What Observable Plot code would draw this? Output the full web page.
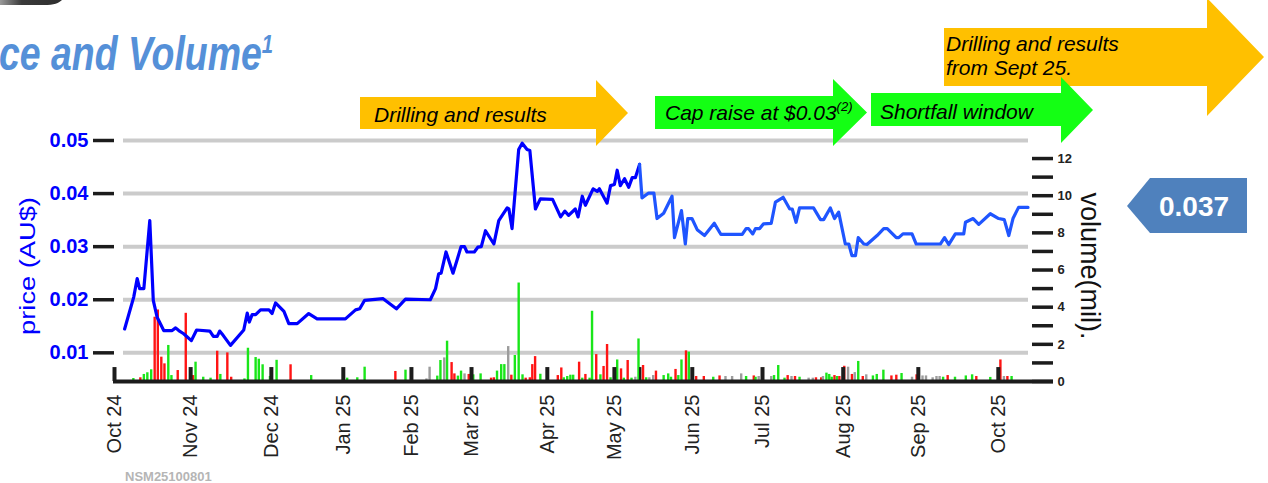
<!DOCTYPE html>
<html>
<head>
<meta charset="utf-8">
<script src="https://cdn.jsdelivr.net/npm/d3@7"></script>
<script src="https://cdn.jsdelivr.net/npm/@observablehq/plot@0.6"></script>
<style>
  html, body { margin: 0; padding: 0; background: #ffffff; }
  #wrap { position: relative; width: 1268px; height: 483px; overflow: hidden; font-family: "Liberation Sans", Arial, sans-serif; }
  #wrap > svg { position: absolute; left: 0; top: 0; }
  #overlay { pointer-events: none; }
</style>
</head>
<body>
<div id="wrap"></div>
<script>
// ---------- DATA ----------
// x = trading-day offset from 1 Oct 2024
const priceIdx = [2.9, 5.5, 6.5, 7.2, 8.4, 10.1, 11.1, 12.2, 14.1, 16.5,
  17.5, 18.4, 19.8, 22.0, 23.5, 27.3, 28.3, 29.4, 30.1, 31.1,
  33.2, 37.0, 38.0, 38.6, 39.4, 40.4, 41.8, 44.2, 45.1, 46.1,
  48.5, 49.9, 52.3, 55.6, 58.0, 66.1, 69.0, 70.2, 71.6, 76.9,
  80.7, 83.3, 90.4, 91.9, 92.8, 93.5, 94.9, 96.9, 98.3, 99.2,
  100.2, 100.9, 103.0, 104.0, 105.0, 106.2, 108.6, 110.0, 112.4, 112.9,
  113.8, 115.7, 116.7, 118.1, 118.9, 120.5, 121.9, 125.4, 127.7, 128.9,
  130.0, 131.9, 132.7, 133.9, 134.8, 137.0, 138.2, 138.8, 141.0, 142.0,
  143.1, 143.9, 144.8, 146.0, 147.2, 148.2, 149.1, 150.3, 151.0, 152.9,
  154.4, 155.3, 157.2, 159.6, 160.3, 162.3, 163.4, 164.1, 165.3, 166.8,
  168.9, 171.7, 173.6, 179.7, 180.8, 181.5, 182.7, 183.5, 184.7, 185.8,
  188.0, 189.2, 191.4, 193.3, 194.0, 195.1, 196.1, 200.1, 202.1, 203.0,
  204.9, 206.1, 207.3, 209.2, 210.2, 211.1, 212.1, 212.9, 214.5, 215.4,
  218.3, 220.2, 221.2, 223.8, 224.5, 225.7, 228.3, 229.5, 236.4, 237.6,
  238.8, 240.7, 243.1, 243.6, 245.8, 247.4, 250.7, 253.1, 254.7, 256.0,
  257.2, 258.8, 261.5];
const prices = [0.0145, 0.0205, 0.0240, 0.0221, 0.0221, 0.0349, 0.0199, 0.0167, 0.0142, 0.0142,
  0.0147, 0.0142, 0.0136, 0.0123, 0.0143, 0.0141, 0.0131, 0.0131, 0.0141, 0.0133,
  0.0114, 0.0143, 0.0175, 0.0158, 0.0172, 0.0172, 0.0181, 0.0181, 0.0174, 0.0194,
  0.0178, 0.0155, 0.0155, 0.0174, 0.0164, 0.0164, 0.0181, 0.0183, 0.0199, 0.0202,
  0.0183, 0.0201, 0.0200, 0.0221, 0.0249, 0.0250, 0.0290, 0.0250, 0.0280, 0.0300,
  0.0300, 0.0290, 0.0290, 0.0299, 0.0300, 0.0330, 0.0305, 0.0349, 0.0373, 0.0371,
  0.0334, 0.0483, 0.0495, 0.0483, 0.0481, 0.0371, 0.0390, 0.0389, 0.0356, 0.0367,
  0.0359, 0.0371, 0.0356, 0.0395, 0.0378, 0.0409, 0.0404, 0.0409, 0.0382, 0.0415,
  0.0417, 0.0444, 0.0415, 0.0428, 0.0412, 0.0430, 0.0430, 0.0455, 0.0392, 0.0401,
  0.0401, 0.0353, 0.0363, 0.0395, 0.0317, 0.0368, 0.0305, 0.0353, 0.0353, 0.0332,
  0.0321, 0.0344, 0.0323, 0.0323, 0.0334, 0.0334, 0.0324, 0.0334, 0.0334, 0.0343,
  0.0344, 0.0384, 0.0393, 0.0371, 0.0371, 0.0346, 0.0373, 0.0373, 0.0351, 0.0351,
  0.0373, 0.0353, 0.0365, 0.0305, 0.0305, 0.0283, 0.0283, 0.0317, 0.0305, 0.0304,
  0.0321, 0.0334, 0.0334, 0.0317, 0.0317, 0.0324, 0.0324, 0.0305, 0.0305, 0.0317,
  0.0304, 0.0324, 0.0324, 0.0346, 0.0353, 0.0342, 0.0362, 0.0353, 0.0351, 0.0321,
  0.0353, 0.0374, 0.0374];

const volIdx = [5.4, 7.4, 8.4, 9.4, 10.5, 11.5, 12.4, 13.4, 14.3, 15.4, 16.3, 18.1, 20.4, 22.5, 23.2, 25.4, 27.5, 29.4, 30.3, 32.3,
  33.4, 37.2, 38.2, 40.4, 41.3, 42.4, 44.5, 46.4, 50.4, 56.3, 66.6, 69.5, 71.6, 80.4, 83.3, 89.3, 90.2, 92.4, 93.3, 94.4,
  95.2, 96.5, 97.3, 98.3, 99.2, 100.2, 101.4, 102.7, 104.8, 107.8, 108.6, 109.5, 110.7, 111.6, 112.7, 113.6, 114.6, 115.7, 116.8, 117.7,
  118.9, 119.6, 120.4, 121.9, 126.9, 127.9, 128.6, 129.6, 130.5, 131.3, 133.0, 133.9, 134.8, 136.0, 136.7, 137.9, 139.1, 140.0, 141.0, 142.0,
  143.9, 145.0, 145.8, 146.9, 148.0, 149.1, 150.0, 150.5, 151.3, 152.2, 153.1, 154.2, 155.0, 157.2, 158.5, 159.3, 160.6, 161.4, 162.3, 163.6,
  164.4, 166.5, 168.7, 171.4, 173.2, 174.9, 176.8, 179.4, 180.8, 183.0, 183.5, 184.4, 188.0, 188.8, 190.0, 191.8, 192.7, 193.8, 194.8, 196.1,
  198.7, 199.9, 200.8, 202.3, 202.8, 203.8, 204.6, 205.3, 206.1, 206.8, 207.5, 208.9, 210.0, 211.1, 211.9, 212.9, 214.2, 215.2, 217.1, 218.2,
  220.1, 222.4, 223.8, 225.3, 228.3, 229.6, 231.3, 232.3, 234.2, 235.3, 236.2, 237.2, 238.5, 240.6, 243.7, 245.5, 246.7, 250.7, 253.6, 254.6,
  255.6, 256.8];
const volMil = [0.16, 0.2, 0.38, 0.47, 0.63, 3.46, 3.85, 1.31, 0.95, 1.94, 0.32, 0.59, 3.67, 0.32, 1.04, 0.23, 0.18, 1.63, 0.38, 1.54,
  0.23, 0.14, 1.79, 1.29, 1.2, 0.9, 0.27, 1.14, 0.9, 0.32, 0.18, 0.2, 0.77, 0.54, 0.61, 0.14, 0.77, 0.29, 1.13, 1.27,
  2.17, 1.02, 0.41, 0.29, 0.56, 0.41, 0.38, 0.36, 0.41, 0.18, 0.2, 0.56, 0.91, 0.91, 1.88, 0.34, 1.4, 5.3, 0.36, 0.18,
  0.2, 0.91, 1.34, 0.39, 0.32, 0.73, 0.2, 0.27, 0.34, 0.34, 1.04, 0.18, 0.38, 0.18, 3.78, 1.45, 0.36, 0.81, 1.99, 0.2,
  1.16, 0.68, 0.18, 1.13, 0.18, 0.23, 2.29, 0.75, 0.86, 0.2, 0.2, 0.32, 0.56, 0.32, 0.41, 0.23, 0.65, 0.32, 1.16, 1.65,
  1.58, 0.27, 0.27, 0.23, 0.3, 0.27, 0.27, 0.41, 0.27, 0.3, 0.23, 0.27, 0.27, 0.32, 0.86, 0.18, 0.32, 0.27, 0.27, 0.23,
  0.18, 0.18, 0.2, 0.2, 0.27, 0.45, 0.38, 0.23, 0.32, 0.27, 0.27, 0.82, 0.77, 0.38, 0.48, 1.08, 0.27, 0.36, 0.3, 0.38,
  0.61, 0.3, 0.34, 0.43, 0.23, 0.36, 0.3, 0.3, 0.2, 0.27, 0.27, 0.23, 0.32, 0.23, 0.3, 0.36, 0.27, 0.22, 1.16, 0.27,
  0.27, 0.27];
// G = up day, R = down day, Y = unchanged, K = dark bar
const volDir = ["G","R","G","G","G","R","R","R","R","G","G","R","R","R","G","G","G","R","G","R",
  "R","G","G","G","G","G","G","G","R","G","G","G","G","R","G","Y","Y","G","G","Y",
  "G","R","R","G","G","Y","R","G","G","R","R","G","G","G","Y","R","G","G","G","R",
  "R","R","R","G","R","R","G","G","G","G","R","G","R","G","G","R","G","R","R","G",
  "G","R","G","R","G","Y","G","K","R","G","Y","Y","R","G","G","G","R","G","G","R",
  "G","R","R","G","R","Y","Y","Y","G","R","G","Y","Y","G","G","G","R","Y","R","G",
  "Y","Y","R","R","Y","G","G","G","R","G","R","R","Y","R","Y","G","R","Y","G","G",
  "G","R","R","G","Y","R","Y","Y","Y","Y","Y","G","R","G","G","G","R","G","R","Y",
  "R","G"];

const monthTicks = [0, 21.8, 44.9, 65.5, 85.0, 102.2, 123.9, 143.1, 165.4, 185.5, 208.6, 230.1, 253.0];
const monthLabels = ["Oct 24","Nov 24","Dec 24","Jan 25","Feb 25","Mar 25","Apr 25","May 25","Jun 25","Jul 25","Aug 25","Sep 25","Oct 25"];
const priceTicks = [0.01, 0.02, 0.03, 0.04, 0.05];
const volTicks = [0,1,2,3,4,5,6,7,8,9,10,11,12];

const annotations = ["Drilling and results", "Cap raise at $0.03", "Shortfall window", "Drilling and results", "from Sept 25."];

// ---------- SCALES / DERIVED ----------
const pBottom = 0.0046, pTop = 0.05;
const volToPrice = 0.0035; // price units per million shares (shared pixel axis)
const vy = v => pBottom + v * volToPrice;
const colorOf = {G: "#19e619", R: "#ff1414", Y: "#9c9c9c", K: "#1c1c1c"};

const priceData = priceIdx.map((x, i) => ({x, p: prices[i]}));
const split = 150.3;
const seg1 = priceData.filter(d => d.x <= split);
const seg2 = priceData.filter(d => d.x >= split);
const volData = volIdx.map((x, i) => ({x, v: volMil[i], c: volDir[i]}));

const W = 1268, H = 483;
const chart = Plot.plot({
  width: W, height: H,
  marginLeft: 114, marginRight: 237, marginTop: 140, marginBottom: 102,
  x: {domain: [0, 262.5], axis: null},
  y: {domain: [pBottom, pTop], axis: null},
  style: {fontFamily: "'Liberation Sans', Arial, sans-serif", background: "transparent", overflow: "visible"},
  marks: [
    Plot.ruleY(priceTicks, {stroke: "#cbcbcb", strokeWidth: 4, insetLeft: 9, insetRight: 3}),
    Plot.ruleX(volData, {x: "x", y1: pBottom, y2: d => vy(d.v), stroke: d => colorOf[d.c], strokeWidth: 2.4}),
    Plot.ruleX(monthTicks, {y1: pBottom, y2: vy(0.75), stroke: "#1c1c1c", strokeWidth: 4}),
    Plot.ruleY([pBottom], {stroke: "#1c1c1c", strokeWidth: 4, insetLeft: -1, insetRight: -22}),
    Plot.line(seg1, {x: "x", y: "p", stroke: "#0000ff", strokeWidth: 3.2}),
    Plot.line(seg2, {x: "x", y: "p", stroke: "#1f55ff", strokeWidth: 3.2}),
    Plot.axisY(priceTicks, {anchor: "left", tickSize: 21, tickPadding: 5, stroke: "#1c1c1c", strokeWidth: 3.5,
      tickFormat: d3.format(".2f"), fill: "#0000ff", fontSize: 20, fontWeight: "bold", label: null}),
    Plot.axisY(volTicks.map(vy), {anchor: "right", tickSize: 21, tickPadding: 5, stroke: "#1c1c1c", strokeWidth: 3.5,
      tickFormat: d => { const v = Math.round((d - pBottom) / volToPrice); return v % 2 === 0 ? String(v) : ""; },
      fill: "#222", fontSize: 13, fontWeight: "bold", label: null}),
    Plot.axisX(monthTicks, {anchor: "bottom", tickSize: 0, tickPadding: 13, tickRotate: -90,
      tickFormat: d => monthLabels[monthTicks.indexOf(d)], fill: "#222", fontSize: 20, label: null})
  ]
});
const wrap = document.getElementById("wrap");
wrap.appendChild(chart);

// ---------- OVERLAY (title, axis titles, annotations) ----------
const lastPrice = prices[prices.length - 1];
const ov = d3.select(wrap).append("svg").attr("id", "overlay")
  .attr("width", W).attr("height", H)
  .style("font-family", "'Liberation Sans', Arial, sans-serif");

// logo fragment top-left
const grad = ov.append("defs").append("linearGradient").attr("id", "lg");
grad.append("stop").attr("offset", "0%").attr("stop-color", "#9a9a9a");
grad.append("stop").attr("offset", "35%").attr("stop-color", "#3a3a3a");
grad.append("stop").attr("offset", "100%").attr("stop-color", "#2e2e2e");
ov.append("path").attr("d", "M0,0 H62 C59,3 54,5 44,5 H0 Z").attr("fill", "url(#lg)");

// title (with superscript as part of the same text)
const title = ov.append("text").attr("transform", "translate(-1,70) scale(0.78,1)")
  .attr("font-size", 48).attr("font-weight", "bold").attr("font-style", "italic").attr("fill", "#5590d8");
title.append("tspan").text("ce and Volume");
title.append("tspan").attr("dy", -17).attr("font-size", 26).text("1");

// axis titles
ov.append("text").attr("transform", "translate(35,266) rotate(-90) scale(1.24,1)")
  .attr("text-anchor", "middle").attr("font-size", 22).attr("fill", "#0000ff").text("price (AU$)");
ov.append("text").attr("transform", "translate(1081,266) rotate(90)")
  .attr("text-anchor", "middle").attr("font-size", 27).attr("fill", "#111").text("volume(mil).");

// arrows
function arrow(x0, x1, tip, yT, yB, hT, hB, fill) {
  const yc = (hT + hB) / 2;
  ov.append("path")
    .attr("d", `M${x0},${yT} H${x1} V${hT} L${tip},${yc} L${x1},${hB} V${yB} H${x0} Z`)
    .attr("fill", fill);
}
const orange = "#ffc000", green = "#14ff14";
arrow(944, 1207, 1264, 28, 86, -2, 116, orange);
arrow(360, 596, 628, 97, 129, 80, 146, orange);
arrow(655, 833, 867, 96, 129, 79, 146, green);
arrow(871, 1061, 1093, 93, 126, 77, 143, green);

function label(x, y, s, size) {
  return ov.append("text").attr("x", x).attr("y", y).attr("font-size", size || 21)
    .attr("font-style", "italic").attr("fill", "#000").text(s);
}
label(374, 122, annotations[0]);
const cap = label(665, 120, annotations[1]);
cap.append("tspan").attr("dy", -9).attr("font-size", 13).text("(2)");
label(880, 119, annotations[2]);
label(946, 51, annotations[3]);
label(946, 75, annotations[4]);

// last price tag
ov.append("path").attr("d", "M1127,206 L1150,178 H1247 V233 H1150 Z").attr("fill", "#4f81bd");
ov.append("text").attr("x", 1194).attr("y", 216).attr("text-anchor", "middle")
  .attr("font-size", 28).attr("font-weight", "bold").attr("fill", "#ffffff")
  .text(d3.format(".3f")(lastPrice));

// footer code
ov.append("text").attr("x", 125).attr("y", 481).attr("font-size", 13).attr("font-weight", "bold")
  .attr("fill", "#b5b5b5").text("NSM25100801");
</script>
</body>
</html>
